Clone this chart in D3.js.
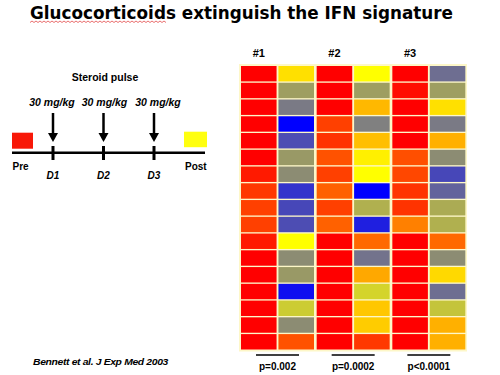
<!DOCTYPE html>
<html>
<head>
<meta charset="utf-8">
<script src="https://cdn.jsdelivr.net/npm/d3@7"></script>
<style>
  body { margin: 0; background: #fff; }
  svg { display: block; font-family: "Liberation Sans", Arial, sans-serif; }
</style>
</head>
<body>
<svg id="chart" width="500" height="375"></svg>
<script>
// expression score per gene row: 0 = blue (low), 1 = yellow, 2 = red (high)
var patients = ["#1", "#2", "#3"];
var phases = ["pre", "post"];
var pValues = ["p=0.002", "p=0.0002", "p<0.0001"];
var timeline = ["D1", "D2", "D3"];
var doses = ["30 mg/kg", "30 mg/kg", "30 mg/kg"];

var pre1  = [2, 2, 2, 2, 2, 2, 1.9, 1.78, 1.75, 1.75, 1.9, 2, 2, 2, 2, 2, 2];
var post1 = [1.12, 0.62, 0.48, 0, 0.3, 0.6, 0.55, 0.2, 0.28, 0.3, 1.0, 0.55, 0.6, 0.06, 0.8, 0.55, 1.68];
var pre2  = [2, 2, 2, 1.75, 1.8, 1.68, 1.75, 1.62, 1.75, 1.62, 2, 2, 2, 2, 2, 2, 2];
var post2 = [1.0, 0.62, 1.28, 0.5, 1.25, 1.06, 1.0, 0, 0.69, 0.12, 1.59, 0.45, 1.34, 0.83, 1.22, 1.2, 1.78];
var pre3  = [2, 1.95, 2, 2, 2, 1.69, 1.72, 1.8, 1.8, 1.5, 2, 2, 2, 2, 2, 2, 2];
var post3 = [0.43, 0.62, 1.12, 0.48, 1.31, 0.55, 0.28, 0.39, 0.67, 0.69, 1.59, 0.55, 1.15, 0.43, 0.77, 1.31, 1.31];

var columns = [
  {patient: "#1", phase: "pre",  values: pre1},
  {patient: "#1", phase: "post", values: post1},
  {patient: "#2", phase: "pre",  values: pre2},
  {patient: "#2", phase: "post", values: post2},
  {patient: "#3", phase: "pre",  values: pre3},
  {patient: "#3", phase: "post", values: post3}
];

var svg = d3.select("#chart");

// Title
svg.append("text")
  .attr("x", 30).attr("y", 19)
  .attr("textLength", 423).attr("lengthAdjust", "spacingAndGlyphs")
  .style("font-family", "'DejaVu Sans', sans-serif")
  .style("font-weight", "bold").style("font-size", "18px")
  .text("Glucocorticoids extinguish the IFN signature");

// spell-check squiggle under the first word
var sq = d3.range(30, 168, 2).map(function(x, i){ return [x, i % 2 ? 21 : 22.5]; });
svg.append("path")
  .attr("d", d3.line()(sq))
  .attr("fill", "none").attr("stroke", "#e03030").attr("stroke-width", 0.7);

// ---- heatmap ----
var xPatient = d3.scaleBand().domain(patients).range([241, 468]);
var xPhase = d3.scaleBand().domain(phases).range([0, 73]).paddingInner(0.05);
var nRows = pre1.length;
var y = d3.scaleBand().domain(d3.range(nRows)).range([66, 349.5]).paddingInner(0.08);
var color = d3.scaleLinear().domain([0, 1, 2]).range(["#0000ff", "#ffff00", "#ff0000"]);

svg.append("rect")
  .attr("x", 239).attr("y", 64)
  .attr("width", 228).attr("height", 287.5)
  .attr("fill", "#fdf7c8");

var cols = svg.selectAll("g.col")
  .data(columns)
  .enter().append("g")
  .attr("class", "col")
  .attr("transform", function(d){ return "translate(" + (xPatient(d.patient) + xPhase(d.phase)) + ",0)"; });

cols.selectAll("rect")
  .data(function(d){ return d.values; })
  .enter().append("rect")
  .attr("x", 0)
  .attr("y", function(d, i){ return y(i); })
  .attr("width", xPhase.bandwidth())
  .attr("height", y.bandwidth())
  .attr("fill", function(d){ return color(d); });

svg.selectAll("text.pat")
  .data(patients)
  .enter().append("text")
  .attr("class", "pat")
  .attr("x", function(d){ return xPatient(d) + xPhase("pre") + xPhase.bandwidth() / 2; })
  .attr("y", 57)
  .attr("text-anchor", "middle")
  .style("font-weight", "bold").style("font-size", "11px")
  .text(function(d){ return d; });

var pg = svg.selectAll("g.pval")
  .data(pValues)
  .enter().append("g")
  .attr("class", "pval")
  .attr("transform", function(d, i){ return "translate(" + (xPatient(patients[i]) + 36.5) + ",0)"; });

pg.append("line")
  .attr("x1", -21.5).attr("x2", 21.5)
  .attr("y1", 355).attr("y2", 355)
  .attr("stroke", "#000").attr("stroke-width", 1.3);

pg.append("text")
  .attr("y", 370)
  .attr("text-anchor", "middle")
  .style("font-weight", "bold").style("font-size", "10px")
  .text(function(d){ return d; });

// ---- treatment schematic ----
var xDay = d3.scaleLinear().domain([1, 3]).range([53, 154]);
var lineY = 152.7;

svg.append("text")
  .attr("x", 105).attr("y", 81)
  .attr("text-anchor", "middle")
  .style("font-weight", "bold").style("font-size", "10.5px")
  .text("Steroid pulse");

svg.append("line")
  .attr("x1", 12).attr("x2", 205)
  .attr("y1", lineY).attr("y2", lineY)
  .attr("stroke", "#000").attr("stroke-width", 2.5);

svg.append("rect")
  .attr("x", 12).attr("y", 132.7).attr("width", 21).attr("height", 16)
  .attr("fill", "#f81808");
svg.append("rect")
  .attr("x", 184).attr("y", 131.7).attr("width", 23).attr("height", 15.5)
  .attr("fill", "#ffff10");

var days = svg.selectAll("g.day")
  .data(timeline)
  .enter().append("g")
  .attr("class", "day")
  .attr("transform", function(d, i){ return "translate(" + xDay(i + 1) + ",0)"; });

days.append("line")
  .attr("y1", 146).attr("y2", 160)
  .attr("stroke", "#000").attr("stroke-width", 3);

days.append("line")
  .attr("y1", 113).attr("y2", 135)
  .attr("stroke", "#000").attr("stroke-width", 2.5);

days.append("path")
  .attr("d", "M-5,133 L5,133 L0,142 Z")
  .attr("fill", "#000");

days.append("text")
  .attr("x", function(d, i){ return [-1, 1, 4][i]; })
  .attr("y", 106)
  .attr("text-anchor", "middle")
  .style("font-weight", "bold").style("font-style", "italic").style("font-size", "10.5px")
  .text(function(d, i){ return doses[i]; });

days.append("text")
  .attr("y", 179)
  .attr("text-anchor", "middle")
  .style("font-weight", "bold").style("font-style", "italic").style("font-size", "10px")
  .text(function(d){ return d; });

svg.append("text")
  .attr("x", 12.5).attr("y", 170)
  .style("font-weight", "bold").style("font-size", "10px")
  .text("Pre");
svg.append("text")
  .attr("x", 185).attr("y", 170)
  .style("font-weight", "bold").style("font-size", "10px")
  .text("Post");

svg.append("text")
  .attr("x", 33).attr("y", 365)
  .attr("textLength", 135).attr("lengthAdjust", "spacingAndGlyphs")
  .style("font-weight", "bold").style("font-style", "italic").style("font-size", "9px")
  .style("letter-spacing", "-0.3px")
  .text("Bennett et al. J Exp Med 2003");
</script>
</body>
</html>
